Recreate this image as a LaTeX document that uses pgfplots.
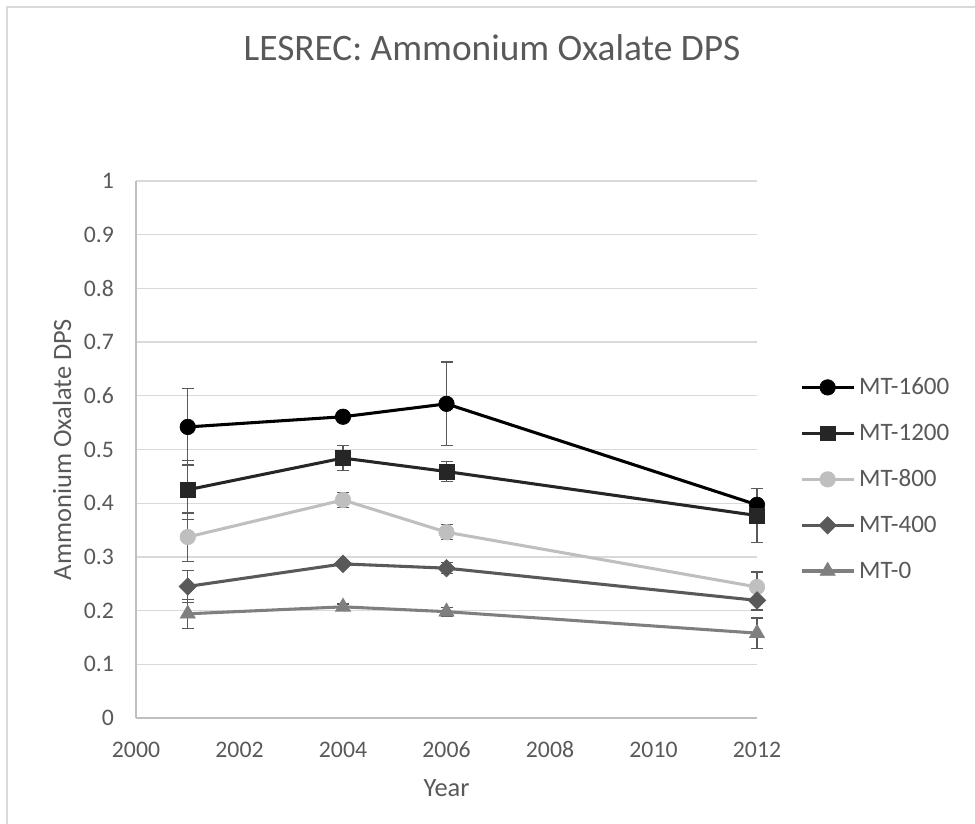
\documentclass[border=0pt]{standalone}
\usepackage{pgfplots}
\pgfplotsset{compat=1.18}
\usepackage{fontspec}
\setmainfont{Carlito}
\definecolor{txt}{HTML}{595959}
\definecolor{grid}{HTML}{D9D9D9}
\definecolor{axl}{HTML}{BFBFBF}
\definecolor{c1600}{HTML}{000000}
\definecolor{c1200}{HTML}{262626}
\definecolor{c800}{HTML}{BFBFBF}
\definecolor{c400}{HTML}{595959}
\definecolor{c0}{HTML}{7F7F7F}
\definecolor{errc}{HTML}{595959}
\begin{document}
\begin{tikzpicture}
\path[use as bounding box] (0pt,0pt) rectangle (731.25pt,618pt);
\draw[grid,line width=1.2pt] (5.25pt,0pt) -- (5.25pt,612.75pt) -- (731.25pt,612.75pt);
\node[text=txt,font=\fontsize{28}{30}\selectfont] at (369pt,582pt) {LESREC: Ammonium Oxalate DPS};
\begin{axis}[
  at={(102pt,79.5pt)}, anchor=south west,
  scale only axis, width=465.75pt, height=402.75pt,
  xmin=2000, xmax=2012, ymin=0, ymax=1,
  xtick={2000,2002,2004,2006,2008,2010,2012},
  ytick={0,0.1,0.2,0.3,0.4,0.5,0.6,0.7,0.8,0.9,1},
  yticklabels={0,0.1,0.2,0.3,0.4,0.5,0.6,0.7,0.8,0.9,1},
  xticklabels={2000,2002,2004,2006,2008,2010,2012},
  axis lines*=left,
  axis line style={draw=axl,line width=1pt,-},
  ymajorgrids, grid style={draw=grid,line width=1pt},
  major tick length=0pt,
  tick label style={text=txt,font=\fontsize{17.8}{20}\selectfont},
  yticklabel style={xshift=-13pt},
  xticklabel style={yshift=-14pt,text height=12pt,text depth=0pt},
  xlabel={Year}, ylabel={Ammonium Oxalate DPS},
  label style={text=txt,font=\fontsize{19.8}{22}\selectfont},
  xlabel style={at={(axis description cs:0.5,-0.131)},anchor=center},
  ylabel style={at={(axis description cs:-0.119,0.5)},anchor=center,rotate=0},
  clip=false,
  legend style={at={(1.069,0.445)},anchor=west,draw=none,fill=none,
    font=\fontsize{18.8}{20}\selectfont,text=txt,row sep=14.5pt,inner sep=0pt,
    nodes={inner sep=3pt}},
  legend cell align=left,
  legend image code/.code={\draw[mark repeat=2,mark phase=2] plot coordinates {(0pt,0pt) (19.5pt,0pt) (39pt,0pt)};},
  error bars/y dir=both, error bars/y explicit,
  error bars/error bar style={draw=errc,line width=1pt,solid},
  error bars/error mark options={rotate=90,mark size=4.5pt,draw=errc,line width=1pt},
]
\addplot[c1600,line width=2.3pt,mark=*,mark size=5.8pt,mark options={fill=c1600,draw=c1600,line width=0.5pt}]
  table[x=x,y=y,y error=e] {
x y e
2001 0.542 0.071
2004 0.561 0.008
2006 0.585 0.078
2012 0.397 0.030
};
\addlegendentry{MT-1600}
\addplot[c1200,line width=2.3pt,mark=square*,mark size=5.6pt,mark options={fill=c1200,draw=c1200,line width=0.5pt}]
  table[x=x,y=y,y error=e] {
x y e
2001 0.425 0.055
2004 0.484 0.023
2006 0.459 0.019
2012 0.377 0.050
};
\addlegendentry{MT-1200}
\addplot[c800,line width=2.3pt,mark=*,mark size=5.8pt,mark options={fill=c800,draw=c800,line width=0.5pt}]
  table[x=x,y=y,y error=e] {
x y e
2001 0.337 0.045
2004 0.406 0.014
2006 0.346 0.014
2012 0.244 0.028
};
\addlegendentry{MT-800}
\addplot[c400,line width=2.3pt,mark=square*,mark size=4.6pt,mark options={fill=c400,draw=c400,line width=0.5pt,rotate=45}]
  table[x=x,y=y,y error=e] {
x y e
2001 0.245 0.030
2004 0.287 0.005
2006 0.279 0.010
2012 0.219 0.018
};
\addlegendentry{MT-400}
\addplot[c0,line width=2.3pt,mark=triangle*,mark size=6.5pt,mark options={fill=c0,draw=c0,line width=0.5pt}]
  table[x=x,y=y,y error=e] {
x y e
2001 0.194 0.027
2004 0.207 0.005
2006 0.198 0.008
2012 0.158 0.028
};
\addlegendentry{MT-0}
\end{axis}
\end{tikzpicture}
\end{document}
